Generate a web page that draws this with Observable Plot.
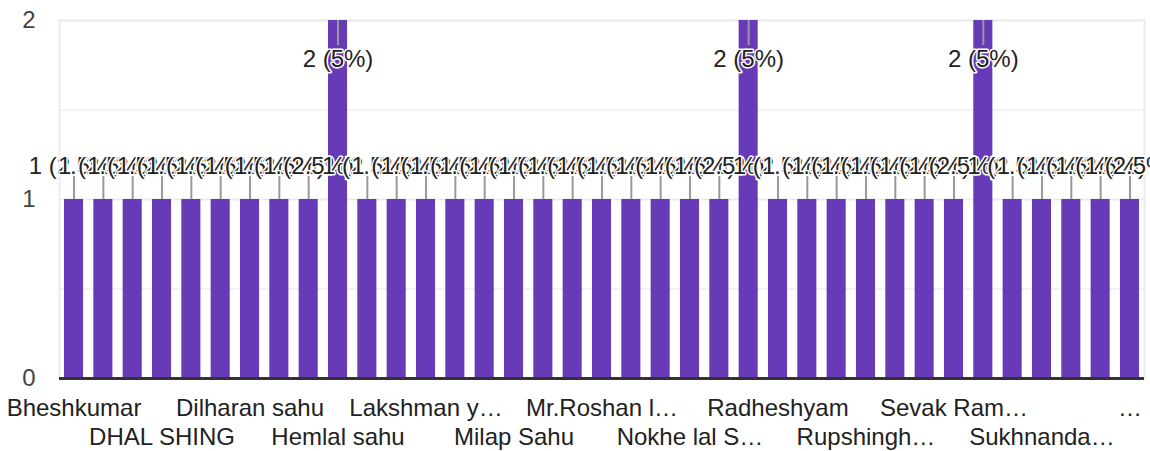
<!DOCTYPE html>
<html><head><meta charset="utf-8">
<script src="https://cdn.jsdelivr.net/npm/d3@7"></script>
<script src="https://cdn.jsdelivr.net/npm/@observablehq/plot@0.6"></script>
<style>body{margin:0;background:#fff}</style>
</head><body><div id="chart"></div>
<script>
const categories = [
  "Bheshkumar", "Bisahu Ram", "Chaitram", "DHAL SHING", "Dhaniram", "Dharmendra",
  "Dilharan sahu", "Ghanshyam", "Gopal sahu", "Hemlal sahu", "Jageshwar", "Kunjram",
  "Lakshman yadav", "Lalit kumar", "Mahesh sahu", "Milap Sahu", "Mohan lal", "Mr.Kamal",
  "Mr.Roshan lal", "Narayan sahu", "Nemichand", "Nokhe lal Sahu", "Pawan kumar", "Purshottam",
  "Radheshyam", "Ramesh sahu", "Rohit", "Rupshingh sahu", "Santosh sahu", "Santram",
  "Sevak Ram sahu", "Shivkumar", "Sukhdev", "Sukhnanda sahu", "Tikaram", "Umesh sahu",
  "Yashwant sahu"
];
const values = [
  1, 1, 1, 1, 1, 1,
  1, 1, 1, 2, 1, 1,
  1, 1, 1, 1, 1, 1,
  1, 1, 1, 1, 1, 2,
  1, 1, 1, 1, 1, 1,
  1, 2, 1, 1, 1, 1,
  1
];
const tickLabels = [
  "Bheshkumar", "DHAL SHING", "Dilharan sahu", "Hemlal sahu", "Lakshman y…", "Milap Sahu",
  "Mr.Roshan l…", "Nokhe lal S…", "Radheshyam", "Rupshingh…", "Sevak Ram…", "Sukhnanda…", "…"
];
const yTicks = [0, 1, 2];
const minorY = [0.5, 1.5];

const total = d3.sum(values);
const pct = d3.format(".2~%");
const data = categories.map((c, i) => ({
  name: c, value: values[i],
  label: `${values[i]} (${pct(values[i] / total)})`
}));
const tickLabelOf = new Map(tickLabels.map((t, k) => [categories[k * 3], t]));
const row1 = categories.filter((c, i) => i % 6 === 0);
const row2 = categories.filter((c, i) => i % 6 === 3);
const low = data.filter(d => d.value === 1);
const high = data.filter(d => d.value === 2);
const font = "Arial, 'Liberation Sans', sans-serif";

const chart = Plot.plot({
  width: 1150, height: 451,
  marginTop: 20, marginLeft: 59, marginRight: 6, marginBottom: 73,
  style: {fontFamily: font, fontSize: "24px", background: "#fff", overflow: "visible"},
  x: {domain: categories, paddingInner: 0.35, paddingOuter: 0.17, round: false, label: null},
  y: {domain: [0, 2], label: null},
  marks: [
    Plot.ruleY(minorY, {stroke: "#f3f3f3", strokeWidth: 2}),
    Plot.ruleY(yTicks.filter(t => t > 0), {stroke: "#ebebeb", strokeWidth: 2}),
    Plot.frame({stroke: "#ebebeb", strokeWidth: 2}),
    Plot.barY(data, {x: "name", y: "value", fill: "#673ab7"}),
    Plot.ruleY([0], {stroke: "#333", strokeWidth: 3}),
    Plot.ruleX(low, {x: "name", y1: "value", y2: "value", insetTop: 0, insetBottom: 23, stroke: "#999", strokeWidth: 2}),
    Plot.ruleX(high, {x: "name", y1: "value", y2: "value", insetTop: 0, insetBottom: -25, stroke: "#999", strokeWidth: 2}),
    Plot.text(low, {x: "name", y: "value", text: "label", dy: -33, fontSize: 24, fill: "#222", stroke: "#fff", strokeWidth: 3}),
    Plot.text(high, {x: "name", y: "value", text: "label", dy: 39, fontSize: 24, fill: "#222", stroke: "#fff", strokeWidth: 3}),
    Plot.axisY(yTicks, {tickSize: 0, tickPadding: 24, fontSize: 24, fill: "#444", label: null, tickFormat: d => String(d)}),
    Plot.axisX(row1, {tickSize: 0, tickPadding: 20, fontSize: 24, fill: "#222", label: null, tickFormat: d => tickLabelOf.get(d)}),
    Plot.axisX(row2, {tickSize: 0, tickPadding: 49, fontSize: 24, fill: "#222", label: null, tickFormat: d => tickLabelOf.get(d)})
  ]
});
document.getElementById("chart").append(chart);
</script>
</body></html>
